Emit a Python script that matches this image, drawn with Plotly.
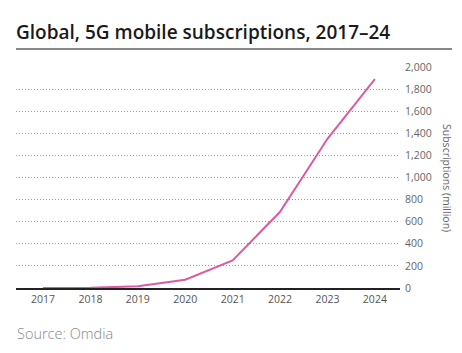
import plotly.graph_objects as go

years = ["2017", "2018", "2019", "2020", "2021", "2022", "2023", "2024"]
subs = [0, 2, 15, 75, 250, 690, 1350, 1890]
y_ticks = [0, 200, 400, 600, 800, 1000, 1200, 1400, 1600, 1800, 2000]
y_tick_labels = ["0", "200", "400", "600", "800", "1,000", "1,200", "1,400", "1,600", "1,800", "2,000"]

W, H = 462, 353
L, R, T, B = 16, 62, 67, 65
pw, ph = W - L - R, H - T - B

def px_x(x):
    return (x - L) / pw

def px_y(y):
    return (H - B - y) / ph

fig = go.Figure()
fig.add_trace(go.Scatter(x=list(range(len(years))), y=subs, mode="lines",
                         line=dict(color="#dd5aa3", width=2), hoverinfo="skip"))

fig.update_layout(
    width=W, height=H,
    margin=dict(l=L, r=R, t=T, b=B),
    paper_bgcolor="white", plot_bgcolor="white",
    showlegend=False,
    font=dict(family="Open Sans", color="#555"),
    xaxis=dict(range=[-0.57, 7.53], tickvals=list(range(len(years))), ticktext=years,
               showgrid=False, zeroline=False, showline=True, linecolor="#222", linewidth=2,
               ticks="", tickfont=dict(size=10.5, color="#555")),
    yaxis=dict(range=[0, 2000], side="right", tickvals=y_ticks, ticktext=y_tick_labels,
               showgrid=True, gridcolor="#9a9a9a", griddash="1px,2px", gridwidth=1,
               zeroline=False, showline=False, ticks="", ticklabelstandoff=4,
               tickfont=dict(size=10.5, color="#666")),
)

fig.add_annotation(text="Global, 5G mobile subscriptions, 2017–24", xref="paper", yref="paper",
                   x=px_x(14), y=px_y(32), xanchor="left", yanchor="middle", showarrow=False,
                   font=dict(size=19, color="#1a1a1a", family="Open Sans", weight=600))
fig.add_shape(type="line", xref="paper", yref="paper", x0=px_x(16), x1=px_x(452),
              y0=px_y(49), y1=px_y(49), line=dict(color="#888", width=2))
fig.add_annotation(text="Subscriptions (million)", xref="paper", yref="paper",
                   x=px_x(447), y=px_y(178), textangle=90, showarrow=False,
                   xanchor="center", yanchor="middle",
                   font=dict(size=10.5, color="#666", family="Open Sans"))
fig.add_annotation(text="Source: Omdia", xref="paper", yref="paper",
                   x=px_x(15), y=px_y(333), xanchor="left", yanchor="middle", showarrow=False,
                   font=dict(size=14.5, color="#888", family="Open Sans", weight=300))

fig.write_html("out.html")
